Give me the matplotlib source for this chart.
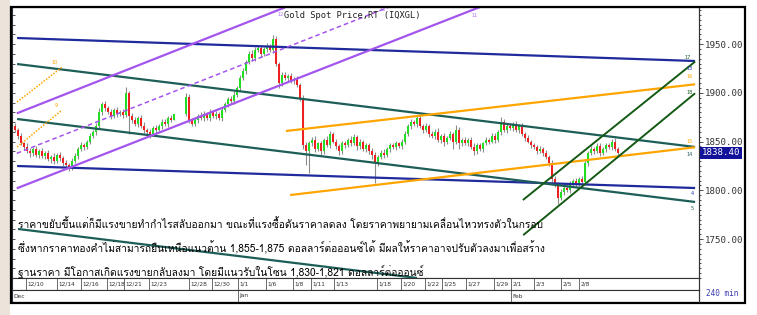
import matplotlib
matplotlib.use("Agg")
import matplotlib.pyplot as plt
import matplotlib.transforms as mtransforms
from matplotlib.patches import Rectangle

# ---- candle data (4h bars) ----
first_open = 1866
closes = [
    1862, 1856, 1848, 1844, 1840, 1838, 1842, 1836, 1840, 1835,
    1838, 1832, 1834, 1830, 1836, 1833, 1828, 1826, 1824, 1830,
    1835, 1842, 1846, 1844, 1850, 1856, 1860, 1866, 1880, 1888,
    1884, 1880, 1876, 1882, 1878, 1880, 1877, 1900, 1876, 1872,
    1868, 1874, 1866, 1862, 1860, 1858, 1864, 1862, 1866, 1870,
    1868, 1874, 1872, 1878, 1878, 1878, 1878, 1896, 1872, 1868,
    1872, 1876, 1874, 1878, 1874, 1880, 1876, 1878, 1874, 1882,
    1888, 1894, 1892, 1898, 1905, 1915, 1922, 1932, 1940, 1936,
    1944, 1946, 1940, 1945, 1948, 1944, 1955, 1930, 1910, 1918,
    1915, 1917, 1912, 1914, 1908, 1895, 1846, 1840, 1848, 1852,
    1842, 1848, 1840, 1852, 1846, 1858, 1850, 1845, 1840, 1848,
    1846, 1852, 1848, 1855, 1845, 1850, 1842, 1846, 1840, 1836,
    1828, 1834, 1838, 1836, 1842, 1846, 1844, 1848, 1845, 1850,
    1858, 1866, 1870, 1868, 1874, 1866, 1862, 1866, 1858, 1856,
    1860, 1852, 1856, 1850, 1854, 1858, 1850, 1862, 1848, 1852,
    1848, 1852, 1844, 1840, 1846, 1842, 1848, 1852, 1850, 1856,
    1852, 1860, 1870, 1862, 1866, 1864, 1868, 1862, 1866, 1858,
    1854, 1850, 1846, 1844, 1840, 1842, 1838, 1834, 1828, 1812,
    1806, 1792, 1798, 1802, 1800, 1806, 1810, 1806, 1812, 1808,
    1828, 1838, 1842, 1840, 1845, 1838, 1842, 1846, 1844, 1850,
    1842, 1838.4,
]
hi_ext = [
    3, 2, 3, 2, 4, 3, 2, 3, 2, 3, 2, 3, 2, 4, 2, 3, 2, 3, 2, 3,
    3, 2, 4, 3, 2, 3, 2, 3, 4, 3, 4, 2, 3, 2, 3, 2, 3, 6, 2, 3,
    3, 2, 3, 4, 2, 3, 2, 3, 2, 3, 3, 2, 3, 0, 0, 0, 0, 4, 3, 2,
    3, 2, 4, 3, 2, 3, 2, 3, 2, 3, 3, 2, 3, 4, 2, 3, 3, 2, 3, 4,
    3, 2, 3, 2, 3, 2, 4, 3, 2, 3, 3, 2, 3, 2, 3, 2, 3, 4, 3, 3,
    4, 2, 3, 2, 4, 3, 2, 3, 2, 3, 3, 2, 4, 3, 2, 3, 2, 3, 2, 3,
    3, 2, 3, 4, 2, 3, 2, 3, 2, 3, 3, 2, 3, 2, 3, 4, 2, 3, 2, 3,
    3, 4, 2, 3, 2, 3, 2, 5, 3, 2, 3, 2, 3, 4, 2, 3, 2, 3, 2, 3,
    3, 2, 5, 3, 2, 3, 2, 3, 2, 3, 2, 3, 2, 3, 2, 3, 2, 3, 2, 3,
    3, 2, 3, 4, 2, 3, 2, 3, 2, 3, 3, 2, 3, 2, 4, 3, 2, 3, 2, 3,
    4, 2,
]
lo_ext = [
    2, 3, 2, 3, 2, 4, 3, 2, 3, 2, 3, 2, 4, 3, 2, 3, 3, 2, 4, 3,
    2, 3, 2, 3, 2, 3, 2, 3, 2, 3, 3, 2, 3, 2, 3, 2, 3, 2, 18, 3,
    2, 3, 2, 3, 2, 4, 2, 3, 2, 3, 2, 3, 2, 0, 0, 0, 0, 2, 3, 2,
    2, 3, 2, 3, 2, 3, 2, 3, 2, 3, 2, 3, 2, 3, 2, 3, 2, 3, 2, 3,
    3, 2, 3, 2, 3, 2, 3, 3, 5, 3, 2, 3, 2, 3, 2, 3, 4, 14, 22, 3,
    3, 2, 4, 3, 2, 3, 2, 3, 4, 3, 3, 2, 3, 2, 4, 3, 2, 3, 3, 4,
    21, 3, 2, 3, 2, 3, 2, 3, 2, 3, 3, 2, 3, 2, 3, 2, 3, 2, 3, 2,
    3, 2, 3, 5, 3, 2, 8, 3, 6, 3, 2, 3, 2, 4, 3, 2, 3, 2, 3, 2,
    3, 2, 3, 2, 3, 2, 3, 2, 3, 2, 3, 2, 3, 2, 3, 2, 3, 2, 3, 4,
    3, 6, 2, 3, 2, 3, 2, 3, 2, 3, 2, 3, 2, 3, 2, 3, 2, 3, 2, 3,
    2, 3,
]

# ---- date axis (bar index of each separator) ----
day_ticks = [3.7, 14, 22, 30.7, 36.3, 44.7, 58, 65.7, 74.3, 83.7, 92.7, 98.7,
             106.3, 120.7, 128.7, 136.7, 142.3, 150.3, 159.7, 165.3, 173, 182, 188]
day_labels = ["12/10", "12/14", "12/16", "12/18", "12/21", "12/23", "12/28", "12/30",
              "1/1", "1/6", "1/8", "1/11", "1/13", "1/18", "1/20", "1/22", "1/25",
              "1/27", "1/29", "2/1", "2/3", "2/5", "2/8"]
month_ticks = [-1, 74.3, 165.3]
month_labels = ["Dec", "Jan", "Feb"]

# ---- drawn trend lines: (bar, price) endpoints ----
navy_lines = [((0.7, 1956.2), (226.7, 1932.6)), ((0.7, 1824.9), (226.7, 1802.3))]
teal_lines = [((0.7, 1929.5), (226.7, 1844.4)), ((0.7, 1873.1), (226.7, 1788.0)),
              ((1.0, 1760.3), (134.0, 1710.0))]
purple_solid = [((0.6, 1878.9), (90.0, 1987.6)), ((0.6, 1802.0), (155.0, 1988.0))]
purple_dashed = [((0.6, 1837.9), (124.7, 1988.0))]
orange_lines = [((90.3, 1860.8), (226.7, 1908.7)), ((91.7, 1795.1), (226.7, 1844.1))]
orange_dotted = [((0.7, 1890.5), (15.7, 1926.4)), ((0.7, 1844.4), (15.7, 1882.3))]
green_lines = [((169.3, 1790.0), (226.7, 1932.0)), ((169.4, 1754.0), (226.7, 1899.5))]

line_tags = [("17", 224.3, 1936.7, "#1b5e20"), ("13", 225.0, 1925.4, "#2030b0"),
             ("16", 225.0, 1916.2, "#ffa500"), ("18", 225.0, 1900.8, "#1b5e20"),
             ("15", 225.0, 1850.5, "#ffa500"), ("14", 224.8, 1836.2, "#1d5e58"),
             ("4", 225.7, 1796.2, "#2030b0"), ("5", 225.7, 1780.8, "#1d5e58"),
             ("12", 88.6, 1980.5, "#b070f0"), ("13", 122.6, 1985.2, "#b070f0"),
             ("11", 153.3, 1979.7, "#b070f0"), ("10", 13.3, 1931.5, "#ffa500"),
             ("9", 13.7, 1887.4, "#ffa500")]

last_price = 1838.40
title = "Gold Spot Price,RT (IQXGL)"
comment = [
    "ราคาขยับขึ้นแต่ก็มีแรงขายทำกำไรสลับออกมา ขณะที่แรงซื้อดันราคาลดลง โดยราคาพยายามเคลื่อนไหวทรงตัวในกรอบ",
    "ซึ่งหากราคาทองคำไม่สามารถยืนเหนือแนวต้าน 1,855-1,875 ดอลลาร์ต่อออนซ์ได้ มีผลให้ราคาอาจปรับตัวลงมาเพื่อสร้าง",
    "ฐานราคา มีโอกาสเกิดแรงขายกลับลงมา โดยมีแนวรับในโซน 1,830-1,821 ดอลลาร์ต่อออนซ์",
]

W, H = 757, 315
MONO = "DejaVu Sans Mono"
THAI = ["Loma", "DejaVu Sans"]


def box(x0, y0, x1, y1):
    return [x0 / W, 1 - y1 / H, (x1 - x0) / W, (y1 - y0) / H]


fig = plt.figure(figsize=(W / 100, H / 100), dpi=100)
fig.patch.set_facecolor("white")
fig.add_artist(Rectangle((0, 0), 10 / W, 1, transform=fig.transFigure,
                         facecolor="#ece4da", edgecolor="none"))

ax = fig.add_axes(box(12, 7, 699, 278))
ax.set_xlim(-1, 228)
ax.set_ylim(1710, 1988)

# candles
opens = [first_open] + closes[:-1]
xs = list(range(len(closes)))
highs = [max(o, c) + h for o, c, h in zip(opens, closes, hi_ext)]
lows = [min(o, c) - l for o, c, l in zip(opens, closes, lo_ext)]
ax.vlines(xs, lows, highs, color="#8c8c8c", lw=0.8, zorder=3)
bottoms = [min(o, c) for o, c in zip(opens, closes)]
heights = [max(abs(c - o), 0.6) for o, c in zip(opens, closes)]
colors = ["#22dd22" if c >= o else "#ee2020" for o, c in zip(opens, closes)]
ax.bar(xs, heights, bottom=bottoms, width=0.55, color=colors, linewidth=0, zorder=4)


def draw(lines, color, lw=1.6, ls="-"):
    for (x0, y0), (x1, y1) in lines:
        ax.plot([x0, x1], [y0, y1], color=color, lw=lw, ls=ls, zorder=5,
                solid_capstyle="butt")


draw(navy_lines, "#1f2a9c")
draw(teal_lines, "#1d5e58")
draw(purple_solid, "#a455ee")
draw(purple_dashed, "#a455ee", lw=1.1, ls=(0, (3, 2)))
draw(orange_lines, "#ffa500")
draw(orange_dotted, "#ffa500", lw=1.1, ls=(0, (1, 1)))
draw(green_lines, "#145a14", lw=1.4)

for txt, x, y, c in line_tags:
    ax.text(x, y, txt, color=c, fontsize=3.6, ha="center", va="center", zorder=6)

ax.text(89.8, 1979.5, title, fontsize=6.3, family=MONO, color="#222222",
        ha="left", va="center", zorder=6)

# y axis: small ticks on the left, labelled scale on the right
ax.set_xticks([])
ax.set_yticks(range(1710, 1990, 10))
ax.tick_params(axis="y", which="both", direction="in", length=2, width=0.6,
               left=True, labelleft=False, color="#333333")
sec = ax.secondary_yaxis("right")
sec.set_yticks(range(1750, 1951, 50))
sec.set_yticks(range(1710, 1990, 5), minor=True)
sec.set_yticklabels([f"{v:.2f}" for v in range(1750, 1951, 50)])
sec.tick_params(axis="y", which="major", direction="out", length=3, width=0.6,
                pad=1, labelsize=6.6, labelcolor="#333333", color="#333333")
sec.tick_params(axis="y", which="minor", direction="out", length=1.6, width=0.6,
                color="#333333")
for lab in sec.get_yticklabels():
    lab.set_family(MONO)
sec.spines["right"].set_linewidth(0.8)
for sp in ax.spines.values():
    sp.set_linewidth(0.8)
    sp.set_color("#333333")

ax.text(1.004, last_price, f"{last_price:.2f}",
        transform=mtransforms.blended_transform_factory(ax.transAxes, ax.transData),
        fontsize=6.6, family=MONO, color="white", ha="left", va="center", zorder=7,
        bbox=dict(facecolor="#12129a", edgecolor="none", pad=1.0), clip_on=False)

# date row
dax = fig.add_axes(box(12, 278, 699, 290))
dax.set_xlim(-1, 228)
dax.set_ylim(0, 1)
dax.vlines(day_ticks, 0, 1, color="#555555", lw=0.6)
for x, s in zip(day_ticks, day_labels):
    dax.text(x + 0.5, 0.5, s, fontsize=4.2, color="#333333", ha="left", va="center")
dax.set_xticks([])
dax.set_yticks([])

# month row
mon = fig.add_axes(box(12, 290, 699, 302))
mon.set_xlim(-1, 228)
mon.set_ylim(0, 1)
mon.vlines(month_ticks[1:], 0, 1, color="#555555", lw=0.6)
for x, s in zip(month_ticks, month_labels):
    mon.text(x + 0.5, 0.5, s, fontsize=4.2, color="#333333", ha="left", va="center")
mon.set_xticks([])
mon.set_yticks([])
for a in (dax, mon):
    for sp in a.spines.values():
        sp.set_linewidth(0.8)
        sp.set_color("#333333")

# right column separator and interval label
fig.add_artist(plt.Line2D([699 / W, 699 / W], [1 - 302 / H, 1 - 278 / H],
                          color="#333333", lw=0.8))
fig.text(722 / W, 1 - 294 / H, "240 min", fontsize=5.5, family=MONO,
         color="#3a3ab0", ha="center", va="center")

# outer frame
fig.add_artist(Rectangle((11 / W, 1 - 302.5 / H), 733.5 / W, 295.5 / H,
                         transform=fig.transFigure, fill=False,
                         edgecolor="black", lw=1.6))

# commentary
for k, line in enumerate(comment):
    fig.text(18 / W, 1 - (228 + 24 * k) / H, line, fontsize=7.4,
             family=THAI, color="black", ha="left", va="baseline")

fig.savefig("out.png", dpi=100)
